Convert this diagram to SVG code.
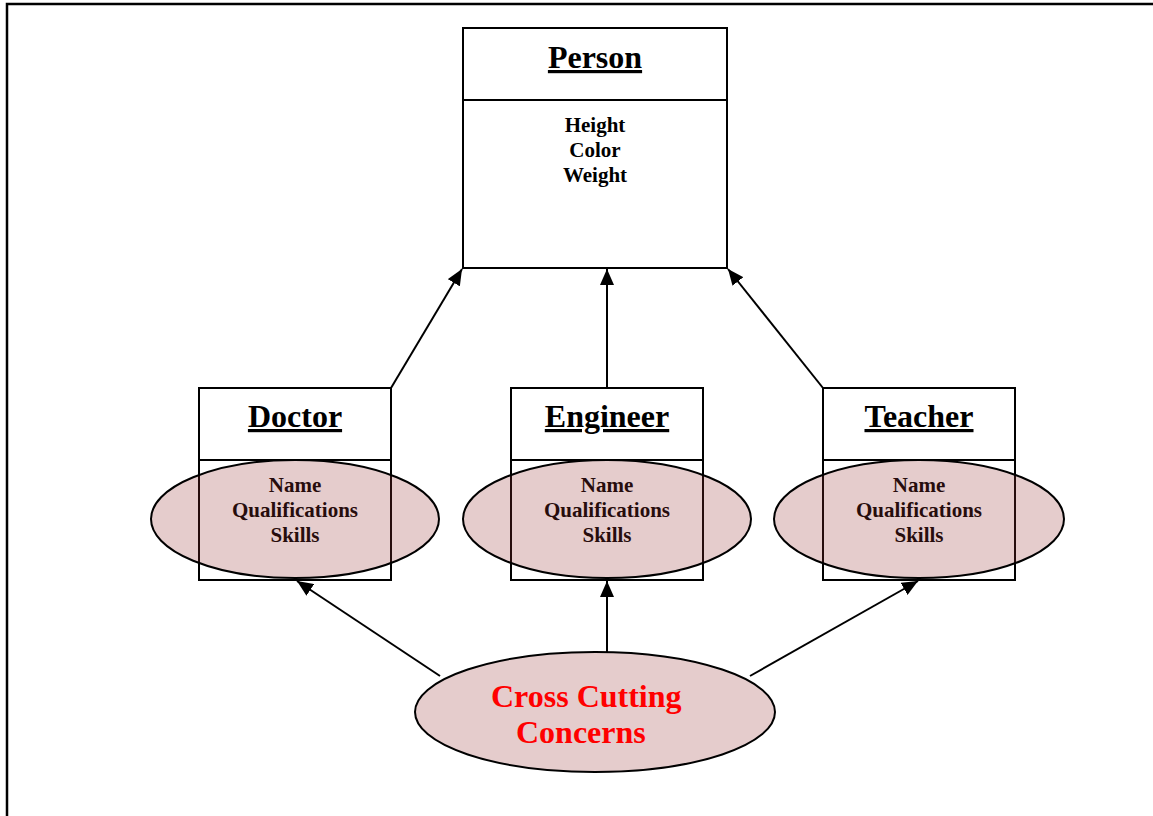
<svg xmlns="http://www.w3.org/2000/svg" width="1153" height="816" viewBox="0 0 1153 816">
<style>
  text { font-family: "Liberation Serif", "Times New Roman", serif; font-weight: bold; text-anchor: middle; fill: #000; }
  .title { font-size: 32px; text-decoration: underline; }
  .attr { font-size: 21px; }
  .box { fill: #fff; stroke: #000; stroke-width: 2; }
  .div { stroke: #000; stroke-width: 2; }
  .oval { fill: rgb(153,51,51); fill-opacity: 0.25; stroke: #000; stroke-width: 2; }
  .cc { font-size: 32px; fill: #ff0000; text-anchor: start; }
  .conn line { stroke: #000; stroke-width: 2; marker-end: url(#arrow); }
</style>
<defs>
  <marker id="arrow" markerUnits="userSpaceOnUse" markerWidth="16" markerHeight="14" viewBox="0 0 16 14" refX="16" refY="7" orient="auto">
    <path d="M0,0 L16,7 L0,14 Z" fill="#000"/>
  </marker>
</defs>
<rect x="0" y="0" width="1153" height="816" fill="#fff"/>
<path d="M7,816 L7,4 L1153,4" fill="none" stroke="#000" stroke-width="2.5"/>

<g id="person">
  <rect class="box" x="463" y="28" width="264" height="240"/>
  <line class="div" x1="463" y1="100" x2="727" y2="100"/>
  <text class="title" x="595" y="68">Person</text>
  <text class="attr" x="595" y="132">Height</text>
  <text class="attr" x="595" y="157">Color</text>
  <text class="attr" x="595" y="182">Weight</text>
</g>

<g id="doctor">
  <rect class="box" x="199" y="388" width="192" height="192"/>
  <line class="div" x1="199" y1="460" x2="391" y2="460"/>
  <text class="title" x="295" y="427">Doctor</text>
  <text class="attr" x="295" y="492">Name</text>
  <text class="attr" x="295" y="517">Qualifications</text>
  <text class="attr" x="295" y="542">Skills</text>
  <ellipse class="oval" cx="295" cy="519" rx="144" ry="59"/>
</g>

<g id="engineer">
  <rect class="box" x="511" y="388" width="192" height="192"/>
  <line class="div" x1="511" y1="460" x2="703" y2="460"/>
  <text class="title" x="607" y="427">Engineer</text>
  <text class="attr" x="607" y="492">Name</text>
  <text class="attr" x="607" y="517">Qualifications</text>
  <text class="attr" x="607" y="542">Skills</text>
  <ellipse class="oval" cx="607" cy="519" rx="144" ry="59"/>
</g>

<g id="teacher">
  <rect class="box" x="823" y="388" width="192" height="192"/>
  <line class="div" x1="823" y1="460" x2="1015" y2="460"/>
  <text class="title" x="919" y="427">Teacher</text>
  <text class="attr" x="919" y="492">Name</text>
  <text class="attr" x="919" y="517">Qualifications</text>
  <text class="attr" x="919" y="542">Skills</text>
  <ellipse class="oval" cx="919" cy="519" rx="145" ry="59"/>
</g>

<g id="crosscutting">
  <ellipse class="oval" cx="595" cy="712" rx="180" ry="60"/>
  <text class="cc" x="491" y="707">Cross Cutting</text>
  <text class="cc" x="516" y="743">Concerns</text>
</g>

<g class="conn" id="connectors">
  <line x1="391" y1="388" x2="462" y2="269"/>
  <line x1="607" y1="388" x2="607" y2="269"/>
  <line x1="823" y1="388" x2="728" y2="269"/>
  <line x1="440" y1="676" x2="297" y2="581"/>
  <line x1="607" y1="652" x2="607" y2="581"/>
  <line x1="750" y1="676" x2="918" y2="581"/>
</g>
</svg>
